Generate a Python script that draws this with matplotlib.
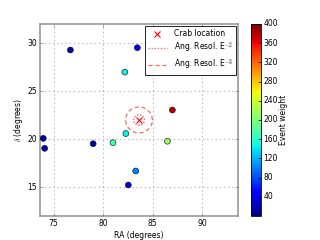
import matplotlib
matplotlib.use("Agg")
import matplotlib.pyplot as plt
import numpy as np

plt.style.use("classic")

# crab nebula position
crab_ra = 83.63
crab_dec = 22.01

# events
ra = [76.7, 83.46, 82.2, 87.0, 73.96, 74.1, 79.0, 81.0, 82.3, 83.3, 82.55, 86.5]
dec = [29.3, 29.54, 27.0, 23.05, 20.1, 19.06, 19.54, 19.65, 20.6, 16.7, 15.24, 19.8]
weight = [15, 40, 145, 380, 15, 20, 15, 170, 145, 100, 30, 215]

# angular resolution radii (degrees)
res_e2 = 0.55
res_e3 = 1.35

fs = 5.5
fig = plt.figure(figsize=(3.2, 2.4), dpi=100)
ax = fig.add_axes([40 / 320, 1 - 216 / 240, 198 / 320, 192 / 240])
cax = fig.add_axes([250.7 / 320, 1 - 216 / 240, 10 / 320, 192 / 240])

sc = ax.scatter(ra, dec, c=weight, cmap="jet", vmin=0, vmax=400, s=18,
                edgecolors="k", linewidths=0.4, zorder=3)
ax.plot([crab_ra], [crab_dec], "x", color="r", ms=5, mew=0.8, ls="none",
        label="Crab location", zorder=4)

t = np.linspace(0, 2 * np.pi, 200)
ax.plot(crab_ra + res_e2 * np.cos(t), crab_dec + res_e2 * np.sin(t),
        color="r", alpha=0.6, lw=1.0, dashes=(1, 1.2),
        label=r"Ang. Resol. E$^{-2}$")
ax.plot(crab_ra + res_e3 * np.cos(t), crab_dec + res_e3 * np.sin(t),
        color="r", alpha=0.6, lw=0.9, dashes=(3, 2),
        label=r"Ang. Resol. E$^{-3}$")

ax.set_xlim(crab_ra - 10, crab_ra + 10)
ax.set_ylim(crab_dec - 10, crab_dec + 10)
ax.set_xticks([75, 80, 85, 90])
ax.set_yticks([15, 20, 25, 30])
ax.grid(True, color="0.6", lw=0.5, dashes=(1, 2))
ax.tick_params(labelsize=fs, length=2, width=0.5, color="0.5", pad=2)
for sp in ax.spines.values():
    sp.set_color("0.6")
    sp.set_linewidth(1.2)
ax.set_xlabel("RA (degrees)", fontsize=fs, labelpad=2)
ax.set_ylabel(r"$\delta$ (degrees)", fontsize=fs, labelpad=2)
leg = ax.legend(loc="upper right", fontsize=fs, numpoints=1, handlelength=2.4,
                handletextpad=0.9, borderpad=0.4, labelspacing=0.3,
                fancybox=False, borderaxespad=0.3)
leg.get_frame().set_linewidth(0.6)

cb = fig.colorbar(sc, cax=cax, ticks=np.arange(40, 401, 40))
cb.set_label("Event weight", fontsize=fs, labelpad=1)
cb.ax.tick_params(labelsize=fs, length=2, width=0.5, pad=2)
cb.outline.set_linewidth(0.6)

fig.savefig("out.png", dpi=100)
